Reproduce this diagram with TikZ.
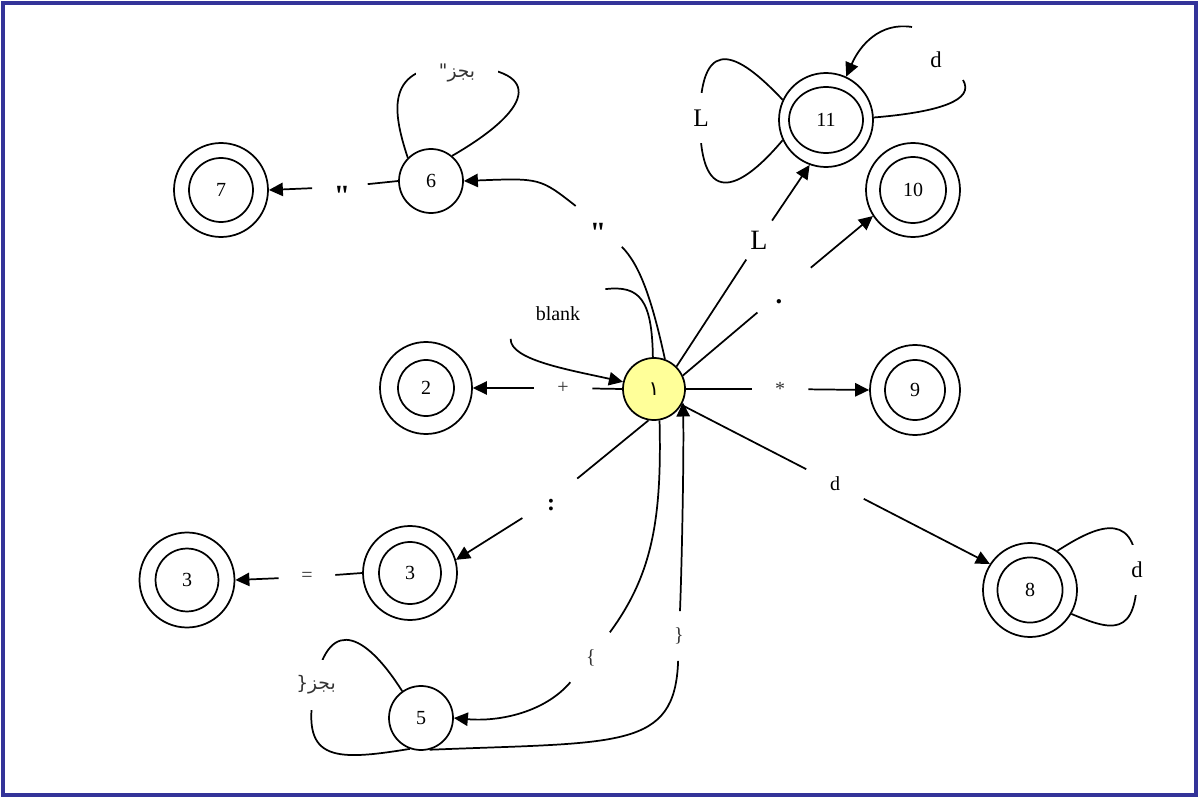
\documentclass[tikz,border=0pt]{standalone}
\usepackage{fontspec}
\setmainfont{Liberation Serif}
\newfontfamily\qfont[Ligatures=TeXOff]{Liberation Serif}
\newfontfamily\arabicfont[Script=Arabic]{DejaVu Sans}
\TeXXeTstate=1
\usetikzlibrary{arrows.meta}
\definecolor{frameblue}{RGB}{51,51,153}
\definecolor{startyellow}{RGB}{255,255,153}
\newcommand\offtext[3]{\smash{\hspace*{#1}\makebox[0pt]{\raisebox{#2}{#3}}\hspace*{-#1}}}
\begin{document}
\begin{tikzpicture}[x=0.75pt,y=-0.75pt,line width=1.3pt,
  st/.style={circle,draw,minimum size=#1,inner sep=0pt,font=\fontsize{15}{18}\selectfont},
  acc/.style 2 args={circle,draw,minimum size=#1,inner sep=0pt,font=\fontsize{15}{18}\selectfont,
    path picture={\draw[line width=1.3pt] (path picture bounding box.center) circle (#2);}},
  gap/.style={circle,minimum size=#1,inner sep=0pt},
  arr/.style={-{Triangle[length=10.5pt,width=10pt]}},
  small/.style={font=\fontsize{15}{17}\selectfont,text=black!80},
  looplab/.style={fill=white,inner sep=0pt},
  arab/.style={font=\arabicfont\fontsize{14}{16}\selectfont,text=black!80},
]
\useasboundingbox (0,0) rectangle (1199,798);
\draw[frameblue,line width=2.5pt] (3,3) rectangle (1196,795);

% states
\node[st=46.5pt,fill=startyellow] (n1) at (654,389) {\arabicfont\fontsize{15}{17}\selectfont ١};
\node[acc={69pt}{21pt}] (n2) at (426,388) {2};
\node[acc={67.5pt}{22.5pt}] (n9) at (915,390) {9};
\node[acc={70.5pt}{24.75pt}] (n10) at (913,190) {10};
\node[acc={70.5pt}{27.75pt and 24.75pt}] (n11) at (826,120) {11};
\node[acc={70.5pt}{24pt}] (n7) at (221,190) {7};
\node[st=48pt] (n6) at (431,181) {6};
\node[acc={70.5pt}{23.25pt}] (n3a) at (410,573) {3};
\node[acc={71.25pt}{23.6pt}] (n3b) at (187,580) {3};
\node[st=48pt] (n5) at (421,718) {5};
\node[acc={70.5pt}{24.4pt}] (n8) at (1030,590) {8};

% straight labelled edges
\node[gap=42.75pt,small] (lplus) at (563,388) {+};
\draw (n1.west) -- (lplus); \draw[arr] (lplus) -- (n2.east);

\node[gap=41.25pt,small] (lstar) at (780,389) {*};
\draw (n1.east) -- (lstar); \draw[arr] (lstar) -- (n9.west);

\node[gap=51pt,font=\fontsize{20}{22}\selectfont\bfseries] (ldot) at (784,290) {\offtext{-3.75pt}{-10pt}{.}};
\draw (n1.25) -- (ldot); \draw[arr] (ldot) -- (n10.213);

\node[gap=33.75pt,font=\fontsize{21}{24}\selectfont] (lL) at (759,240) {L};
\draw (n1.45) -- (lL); \draw[arr] (lL) -- (n11.250);

\node[gap=47.25pt,font=\fontsize{15}{17}\selectfont] (ld) at (835,484) {d};
\draw (n1.330) -- (ld); \draw[arr] (ld) -- (n8.147);

\node[gap=49.5pt,font=\fontsize{18}{20}\selectfont\bfseries] (lcolon) at (551,500) {\offtext{0pt}{-8pt}{:}};
\draw (n1.260) -- (lcolon); \draw[arr] (lcolon) -- (n3a.16);

\node[gap=41.25pt,small] (leq) at (307,577) {=};
\draw (n3a.west) -- (leq); \draw[arr] (leq) -- (n3b.east);

\node[gap=40.5pt,font=\qfont\fontsize{22}{24}\selectfont\bfseries] (lq7) at (340,187) {\offtext{1.5pt}{-14pt}{"}};
\draw (n6.west) -- (lq7); \draw[arr] (lq7) -- (n7.east);

% curved labelled edges
\node[gap=45pt,font=\qfont\fontsize{22}{24}\selectfont\bfseries] (lq6) at (600,225) {\offtext{-1.5pt}{-13pt}{"}};
\draw (n1.70) .. controls (652,300) and (640,265) .. (lq6);
\draw[arr] (lq6) .. controls (540,178) .. (n6.east);

\node[minimum width=69.75pt,minimum height=36pt,inner sep=0pt,font=\fontsize{15}{18}\selectfont] (lblank) at (558,314) {blank};
\draw (n1.92) .. controls (652,300) and (640,285) .. (lblank.north east);
\draw[arr] (lblank.south west) .. controls (510,360) and (570,370) .. (n1.167);

\node[gap=46.5pt,small] (lbo) at (591,658) {\{};
\draw (n1.280) .. controls (662,520) and (652,575) .. (lbo);
\draw[arr] (lbo) .. controls (545,712) and (500,722) .. (n5.east);

\node[gap=36pt,small] (lbc) at (679,636) {\}};
\draw (n5.-75) .. controls (620,742) and (675,750) .. (lbc);
\draw[arr] (lbc) .. controls (682,560) and (684,450) .. (n1.-25);

% self loops
\draw (n6.135) .. controls (392,110) and (385,65) .. (457,66) .. controls (540,68) and (540,105) .. (n6.50);
\node[looplab,minimum width=62pt,minimum height=16.5pt,arab] (a6) at (457,73) {\beginR بجز"\endR};

\draw (n5.125) .. controls (370,640) and (330,610) .. (315,685) .. controls (300,760) and (330,762) .. (n5.250);
\node[looplab,minimum width=30pt,minimum height=37.5pt,arab] (a5) at (316,685) {\beginR بجز\{\endR};

\draw (n11.155) .. controls (745,60) and (700,25) .. (700,120) .. controls (700,215) and (745,185) .. (n11.205);
\node[looplab,minimum width=22.5pt,minimum height=37.5pt,font=\fontsize{19}{22}\selectfont] (aL) at (701,118) {L};

\coordinate (d11a) at (963,80);
\coordinate (d11b) at (912,27);
\draw (n11.3) .. controls (940,112) and (975,100) .. (d11a);
\draw[arr] (d11b) .. controls (880,22) and (860,45) .. (n11.65);
\node[font=\fontsize{17}{20}\selectfont] (ad11) at (936,60) {d};

\draw (n8.55) .. controls (1090,530) and (1135,505) .. (1137,570) .. controls (1138,640) and (1110,630) .. (n8.-30);
\node[looplab,minimum width=22.5pt,minimum height=37.5pt,font=\fontsize{17}{20}\selectfont] (a8) at (1137,570) {d};
\end{tikzpicture}
\end{document}
